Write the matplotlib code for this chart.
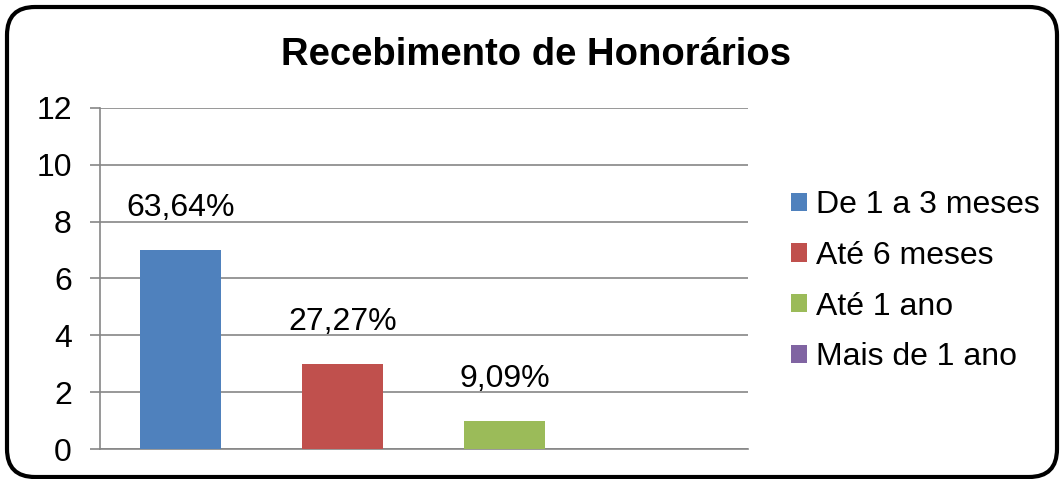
import matplotlib
matplotlib.use('Agg')
import matplotlib.pyplot as plt
from matplotlib.patches import FancyBboxPatch, Patch

# data
categories = ['De 1 a 3 meses', 'Até 6 meses', 'Até 1 ano', 'Mais de 1 ano']
counts = [7, 3, 1, 0]
labels = ['63,64%', '27,27%', '9,09%', '']
colors = ['#4F81BD', '#C0504D', '#9BBB59', '#8064A2']
yticks = [0, 2, 4, 6, 8, 10, 12]

plt.rcParams['font.family'] = ['Liberation Sans', 'DejaVu Sans']

fig = plt.figure(figsize=(10.63, 4.79), dpi=100)
ax = fig.add_axes([0.094, 0.0626, 0.6097, 0.712])

x = list(range(len(categories)))
bars = ax.bar(x, counts, width=0.5, color=colors, zorder=3)

for bar, lab in zip(bars, labels):
    if lab:
        ax.annotate(lab, (bar.get_x() + bar.get_width() / 2, bar.get_height()),
                    xytext=(0, 30), textcoords='offset points',
                    ha='center', va='center', fontsize=23)

ax.set_xlim(-0.5, len(categories) - 0.5)
ax.set_ylim(0, 12)
ax.set_yticks(yticks)
ax.set_yticklabels([str(t) for t in yticks], fontsize=23)
ax.set_xticks([])

# gridlines and axes in the grey office style
ax.grid(axis='y', color='#868686', linewidth=1.2, zorder=0)
for side in ['top', 'right']:
    ax.spines[side].set_visible(False)
ax.spines['left'].set_color('#868686')
ax.spines['bottom'].set_color('#868686')
ax.spines['left'].set_linewidth(1.2)
ax.spines['bottom'].set_linewidth(1.2)
ax.tick_params(axis='y', length=7.2, color='#868686', width=1.2, pad=13)

fig.text(0.504, 0.886, 'Recebimento de Honorários', ha='center', va='center',
         fontsize=27.5, fontweight='bold')

handles = [Patch(facecolor=c) for c in colors]
fig.legend(handles, categories, loc='center left', bbox_to_anchor=(0.744, 0.413),
           frameon=False, fontsize=23, handlelength=0.5, handleheight=0.5,
           handletextpad=0.28, labelspacing=0.65, borderpad=0, borderaxespad=0)

# rounded frame around the whole chart
frame = FancyBboxPatch((7, 2), 1050, 470, boxstyle='round,pad=0,rounding_size=28',
                       transform=None, facecolor='none', edgecolor='black',
                       linewidth=3)
fig.patches.append(frame)

fig.savefig('out.png', dpi=100)
